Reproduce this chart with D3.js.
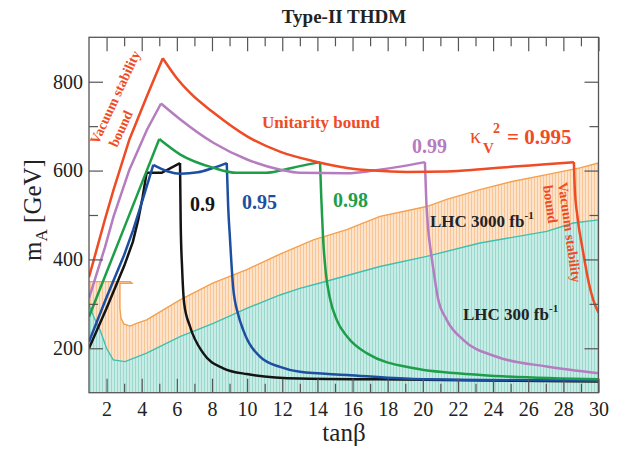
<!DOCTYPE html>
<html>
<head>
<meta charset="utf-8">
<script src="https://cdn.jsdelivr.net/npm/d3@7"></script>
<style>
  body { margin: 0; background: #fff; }
  text { font-family: "Liberation Serif", "Times New Roman", serif; }
</style>
</head>
<body>
<svg id="chart" width="621" height="450"></svg>
<script>
// Tick values
const xTicks = [2, 4, 6, 8, 10, 12, 14, 16, 18, 20, 22, 24, 26, 28, 30];
const xMinor = [3, 5, 7, 9, 11, 13, 15, 17, 19, 21, 23, 25, 27, 29];
const yTicks = [200, 400, 600, 800];
const yMinor = [300, 500, 700];

// [tanβ, m_A in GeV] traces for the κ_V² contours
const kappa995 = [[1.0,360],[1.9,489],[2.4,557],[3.3,670],[4.3,768],[5.2,853],[6.0,808],[6.7,777],[8.1,730],[10.0,677],[11.9,642],[13.8,621],[15.7,606],[17.2,600],[19.1,597],[21.4,598],[23.3,603],[25.2,609],[27.0,614],[28.6,619],[28.65,560],[28.8,497],[29.1,422],[29.45,347],[29.7,309],[30.0,280]];
const kappa99  = [[1.0,313],[1.9,426],[2.4,497],[3.3,602],[4.3,692],[5.1,751],[6.2,715],[8.1,662],[10.0,625],[11.9,602],[13.0,595],[15.7,594],[17.2,600],[20.12,619],[20.2,530],[20.3,470],[20.45,420],[20.65,365],[20.85,315],[21.36,264],[22.3,219],[24.2,181],[27.05,159],[30.0,144]];
const kappa98  = [[1.0,271],[3.0,471],[5.0,671],[6.2,636],[8.1,606],[9.4,595],[11.1,595],[11.9,600],[13.0,610],[14.15,619],[14.22,540],[14.32,450],[14.48,370],[14.7,315],[15.1,264],[15.7,226],[16.8,189],[19.5,155],[23.3,140],[30.0,130]];
const kappa95  = [[1.0,215],[2.0,315],[3.0,410],[3.52,467],[4.1,540],[4.66,613],[5.5,598],[6.2,593],[7.2,596],[8.0,605],[8.84,617],[8.92,520],[9.02,450],[9.2,339],[9.5,275],[9.78,241],[10.73,181],[11.87,158],[13.0,147],[15.67,140],[19.46,131],[30.0,127]];
const kappa90  = [[1.0,200],[2.0,290],[3.0,385],[3.5,440],[3.8,489],[4.05,540],[4.28,595],[5.14,595],[6.18,617],[6.22,480],[6.3,380],[6.42,300],[6.75,249],[7.5,189],[8.64,155],[9.98,142],[13.0,132],[17.56,130],[30.0,125]];

// LHC reach boundaries
const lhc3000 = [[1.0,350],[3.35,350],[3.45,346],[2.76,346],[2.76,290],[2.82,268],[2.98,255],[3.33,250],[3.7,256],[4.28,264],[6.18,309],[8.07,347],[9.98,377],[11.87,412],[13.77,444],[15.67,467],[17.56,497],[20.22,519],[21.36,535],[23.25,557],[25.15,576],[27.05,591],[28.94,606],[30.0,617]];
const lhc300  = [[1.0,297],[1.3,268],[1.63,241],[2.0,200],[2.38,174],[3.05,170],[4.28,189],[6.18,226],[8.07,256],[9.98,290],[11.87,320],[13.0,335],[14.15,347],[17.56,384],[20.22,407],[23.25,437],[27.05,463],[28.56,482],[30.0,489]];

const svg = d3.select("#chart");
const x = d3.scaleLinear().domain([1, 30]).range([89, 598.5]);
const y = d3.scaleLinear().domain([100, 900]).range([392.7, 37.3]);
const [xMin, xMax] = x.domain();
const [yMin, yMax] = y.domain();

const defs = svg.append("defs");
defs.append("clipPath").attr("id", "plotClip")
  .append("rect")
  .attr("x", x(xMin)).attr("y", y(yMax))
  .attr("width", x(xMax) - x(xMin)).attr("height", y(yMin) - y(yMax));

function hatch(id, bg, fg) {
  const p = defs.append("pattern").attr("id", id)
    .attr("width", 3).attr("height", 2).attr("patternUnits", "userSpaceOnUse");
  p.append("rect").attr("width", 3).attr("height", 2).attr("fill", bg);
  p.append("rect").attr("width", 1).attr("height", 2).attr("fill", fg);
}
hatch("fillOrange", "#fde3c9", "#f8c597");
hatch("fillTeal", "#c7ece6", "#9bd9cf");

const line = d3.line().x(d => x(d[0])).y(d => y(d[1]));
const smooth = d3.line().x(d => x(d[0])).y(d => y(d[1])).curve(d3.curveMonotoneX);
const plot = svg.append("g").attr("clip-path", "url(#plotClip)");

// shaded reach regions, closed down to the bottom of the frame
function region(data, fill, stroke) {
  const poly = data.concat([[xMax, yMin], [xMin, yMin]]);
  plot.append("path").attr("d", line(poly) + "Z").attr("fill", fill).attr("stroke", "none");
  plot.append("path").attr("d", line(data)).attr("fill", "none")
    .attr("stroke", stroke).attr("stroke-width", 1.4);
}
region(lhc3000, "url(#fillOrange)", "#f5a04c");
region(lhc300, "url(#fillTeal)", "#3fbfb1");

// axes with inward ticks on all four sides
function styleAxis(g) {
  g.select(".domain").remove();
  g.selectAll(".tick line").attr("stroke", "#555").attr("stroke-width", 1.2);
  g.selectAll(".tick text").attr("font-size", 20).attr("fill", "#222")
    .attr("font-family", "Liberation Serif, Times New Roman, serif");
}
svg.append("g").attr("transform", `translate(0,${y(yMin)})`)
  .call(d3.axisBottom(x).tickValues(xTicks).tickSize(-14).tickPadding(9)).call(styleAxis);
svg.append("g").attr("transform", `translate(0,${y(yMin)})`)
  .call(d3.axisBottom(x).tickValues(xMinor).tickSize(-9).tickFormat("")).call(styleAxis);
svg.append("g").attr("transform", `translate(0,${y(yMax)})`)
  .call(d3.axisTop(x).tickValues(xTicks).tickSize(-14).tickFormat("")).call(styleAxis);
svg.append("g").attr("transform", `translate(0,${y(yMax)})`)
  .call(d3.axisTop(x).tickValues(xMinor).tickSize(-9).tickFormat("")).call(styleAxis);
svg.append("g").attr("transform", `translate(${x(xMin)},0)`)
  .call(d3.axisLeft(y).tickValues(yTicks).tickSize(-14).tickPadding(6)).call(styleAxis);
svg.append("g").attr("transform", `translate(${x(xMin)},0)`)
  .call(d3.axisLeft(y).tickValues(yMinor).tickSize(-9).tickFormat("")).call(styleAxis);
svg.append("g").attr("transform", `translate(${x(xMax)},0)`)
  .call(d3.axisRight(y).tickValues(yTicks).tickSize(-14).tickFormat("")).call(styleAxis);
svg.append("g").attr("transform", `translate(${x(xMax)},0)`)
  .call(d3.axisRight(y).tickValues(yMinor).tickSize(-9).tickFormat("")).call(styleAxis);

svg.append("rect")
  .attr("x", x(xMin)).attr("y", y(yMax))
  .attr("width", x(xMax) - x(xMin)).attr("height", y(yMin) - y(yMax))
  .attr("fill", "none").attr("stroke", "#555").attr("stroke-width", 1.3);

// κ_V² contours: straight rise to the first cusp, smooth between cusps and in the falling tail
function localMaxima(data) {
  const idx = [];
  for (let i = 1; i < data.length - 1; i++) {
    if (data[i][1] >= data[i - 1][1] && data[i][1] > data[i + 1][1]) idx.push(i);
  }
  return idx;
}
const RED = "#ef4b24", PURPLE = "#b57cc0", GREEN = "#1e9e48", BLUE = "#1c4fa1", BLACK = "#141414";
[[kappa90, BLACK], [kappa95, BLUE], [kappa98, GREEN], [kappa99, PURPLE], [kappa995, RED]]
  .forEach(([data, color]) => {
    const peaks = localMaxima(data);
    const a = peaks[0], b = peaks[peaks.length - 1];
    const g = plot.append("g").attr("fill", "none").attr("stroke", color)
      .attr("stroke-width", 2.5).attr("stroke-linejoin", "miter").attr("stroke-linecap", "butt");
    g.append("path").attr("d", line(data.slice(0, a + 1)));
    if (b > a) g.append("path").attr("d", smooth(data.slice(a, b + 1)));
    g.append("path").attr("d", smooth(data.slice(b)));
  });

// text
function label(txt, px, py, size, color, opts = {}) {
  const t = svg.append("text").attr("x", px).attr("y", py)
    .attr("font-size", size).attr("fill", color)
    .attr("font-weight", opts.weight || "bold")
    .attr("text-anchor", opts.anchor || "start")
    .text(txt);
  if (opts.rotate !== undefined) t.attr("transform", `rotate(${opts.rotate},${px},${py})`);
  return t;
}

label("Type-II THDM", 344, 23, 19, "#222", { anchor: "middle" });

// axis titles
label("tanβ", 344, 441, 25, "#222", { anchor: "middle", weight: "normal" });
const yTitle = svg.append("text").attr("transform", "translate(41,210) rotate(-90)")
  .attr("text-anchor", "middle").attr("font-size", 25).attr("fill", "#222");
yTitle.append("tspan").text("m");
yTitle.append("tspan").attr("font-size", 17).attr("dy", 6).text("A");
yTitle.append("tspan").attr("dy", -6).text(" [GeV]");

label("Unitarity bound", 262, 128, 17, RED);
label("0.99", 412, 153, 20, PURPLE);
label("0.98", 333, 207, 20, GREEN);
label("0.95", 242, 209, 20, BLUE);
label("0.9", 190, 211, 20, BLACK);

// κ_V² = 0.995
label("κ", 470, 143, 22, RED, { weight: "normal" });
label("V", 483, 153, 15, RED);
label("2", 493, 133, 14, RED);
label("= 0.995", 507, 144, 21, RED);

// LHC reach annotations
const l3000 = label("LHC 3000 fb", 430, 227, 17, "#222");
l3000.append("tspan").attr("font-size", 11).attr("dy", -8).text("-1");
const l300 = label("LHC 300 fb", 463, 320, 17, "#222");
l300.append("tspan").attr("font-size", 11).attr("dy", -8).text("-1");

// vacuum stability annotations
label("Vacuum stability", 98, 145, 14, RED, { rotate: -65 });
label("bound", 117, 148, 14, RED, { rotate: -65 });
label("Vacuum stability", 558, 183, 14, RED, { rotate: 82 });
label("bound", 543, 186, 14, RED, { rotate: 82 });
</script>
</body>
</html>
